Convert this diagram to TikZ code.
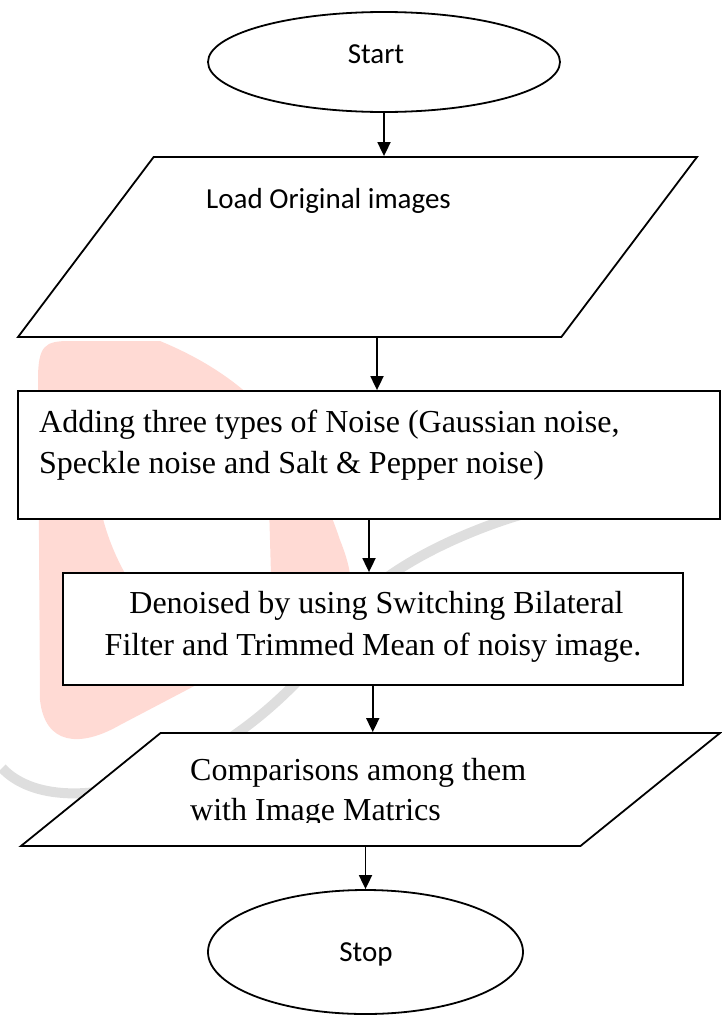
\documentclass[tikz,border=0pt]{standalone}
\usepackage{fontspec}
\newfontfamily\calibrifont{Carlito}
\newfontfamily\timesfont{Liberation Serif}
\usetikzlibrary{shapes.geometric,arrows.meta}
\definecolor{wmpink}{RGB}{255,218,212}
\definecolor{wmgray}{RGB}{222,222,222}
\tikzset{
  terminal/.style={ellipse,draw,fill=white,line width=1.8pt,inner sep=0pt},
  inputbox/.style={trapezium,trapezium stretches body,draw,fill=white,line width=1.8pt,inner xsep=0pt},
  processbox/.style={rectangle,draw,fill=white,line width=1.8pt,inner sep=0pt},
  flowarrow/.style={line width=1.8pt,-{Triangle[length=14pt,width=13pt]}},
  sanslabel/.style={font=\calibrifont\fontsize{29}{35}\selectfont,inner sep=0pt},
  seriflabel/.style={font=\timesfont\fontsize{32}{40}\selectfont,inner sep=0pt}
}

\begin{document}
\begin{tikzpicture}[x=1pt,y=-1pt]
  \useasboundingbox (0,0) rectangle (722,1015);
  % faint watermark behind the chart
  \fill[wmpink,even odd rule] (38,380) .. controls (38,345) and (45,341) .. (70,341) -- (160,341)
      .. controls (230,370) and (300,420) .. (340,540) .. controls (360,590) and (350,605) .. (320,620)
      -- (120,725) .. controls (80,748) and (45,745) .. (40,700) -- cycle
      (100,470) -- (268,470) -- (272,610) -- (170,630) .. controls (135,600) and (108,550) .. (100,505) -- cycle;
  \draw[wmgray,line width=10pt] (2,768) .. controls (60,830) and (250,780) .. (360,600)
      .. controls (400,560) and (470,530) .. (520,515);

  % shapes
  \node[terminal,minimum width=352pt,minimum height=100pt] (start) at (384,62) {};
  \node[inputbox,trapezium left angle=53,trapezium right angle=127,
        inner ysep=90pt,minimum width=679pt] (load) at (357.5,247) {};
  \node[processbox,minimum width=702pt,minimum height=128pt] (noise) at (369,455) {};
  \node[processbox,minimum width=620pt,minimum height=112pt] (denoise) at (372.75,629) {};
  \node[inputbox,trapezium left angle=39,trapezium right angle=141,
        inner ysep=56.5pt,minimum width=699pt] (compare) at (370.5,789.5) {};
  \node[terminal,minimum width=315pt,minimum height=124pt] (stop) at (365.5,952) {};

  % texts
  \node[sanslabel,anchor=base] (starttxt) at (376,63) {Start};
  \node[sanslabel,anchor=base west] (loadtxt) at (206,208) {Load Original images};
  \node[seriflabel,anchor=base west] (noisetxta) at (39,432) {Adding three types of Noise (Gaussian noise,};
  \node[seriflabel,anchor=base west] (noisetxtb) at (39,473) {Speckle noise and Salt \& Pepper noise)};
  \node[seriflabel,anchor=base] (denoisetxta) at (376.5,613) {Denoised by using Switching Bilateral};
  \node[seriflabel,anchor=base] (denoisetxtb) at (373,655) {Filter and Trimmed Mean of noisy image.};
  \begin{scope}
    \clip (0,740) rectangle (722,822);
    \node[seriflabel,anchor=base west] (comparetxta) at (190,780) {Comparisons among them};
    \node[seriflabel,anchor=base west] (comparetxtb) at (190,820) {with Image Matrics};
  \end{scope}
  \node[sanslabel,anchor=base] (stoptxt) at (366,961) {Stop};

  % connectors
  \draw[flowarrow] (start.south) -- (start.south |- load.north);
  \draw[flowarrow] ([xshift=19.5pt]load.south) -- ([xshift=8pt]noise.north);
  \draw[flowarrow] (noise.south) -- (noise.south |- denoise.north);
  \draw[flowarrow] (denoise.south) -- (denoise.south |- compare.north);
  \draw[flowarrow] (compare.south -| stop.north) -- (stop.north);
\end{tikzpicture}
\end{document}
